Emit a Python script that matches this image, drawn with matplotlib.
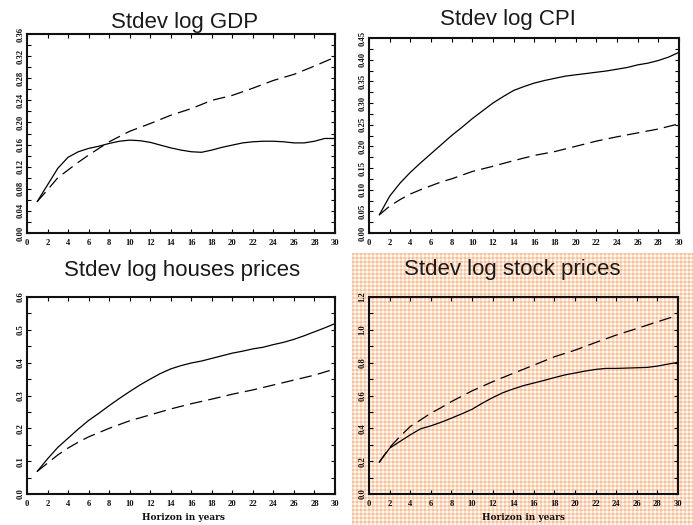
import numpy as np
import matplotlib
matplotlib.use("Agg")
import matplotlib.pyplot as plt
from matplotlib.ticker import MultipleLocator, FormatStrFormatter

# Horizons (years)
h_solid = list(range(1, 31))
h_dash = [1, 2, 3, 4, 5, 6, 7, 8, 10, 12, 14, 16, 18, 20, 22, 24, 26, 28, 30]

# Stdev of log GDP
gdp_solid = [0.057, 0.087, 0.117, 0.137, 0.147, 0.153, 0.157, 0.162, 0.166, 0.168,
             0.167, 0.164, 0.159, 0.154, 0.150, 0.147, 0.146, 0.150, 0.155, 0.159,
             0.163, 0.165, 0.166, 0.166, 0.165, 0.163, 0.163, 0.166, 0.171, 0.171]
gdp_dash = [0.057, 0.078, 0.100, 0.114, 0.128, 0.141, 0.153, 0.165, 0.184, 0.198,
            0.213, 0.225, 0.240, 0.249, 0.262, 0.276, 0.287, 0.302, 0.318]

# Stdev of log CPI
cpi_solid = [0.042, 0.085, 0.115, 0.140, 0.162, 0.183, 0.204, 0.225, 0.244, 0.264,
             0.282, 0.300, 0.315, 0.329, 0.338, 0.346, 0.352, 0.357, 0.362, 0.365,
             0.368, 0.371, 0.374, 0.378, 0.382, 0.388, 0.392, 0.398, 0.406, 0.417]
cpi_dash = [0.042, 0.062, 0.077, 0.090, 0.100, 0.109, 0.118, 0.125, 0.142, 0.154,
            0.167, 0.179, 0.188, 0.200, 0.212, 0.222, 0.231, 0.240, 0.252]

# Stdev of log house prices
house_solid = [0.069, 0.107, 0.142, 0.170, 0.198, 0.224, 0.246, 0.269, 0.291, 0.312,
               0.332, 0.350, 0.367, 0.381, 0.391, 0.399, 0.405, 0.413, 0.421, 0.429,
               0.435, 0.442, 0.447, 0.455, 0.462, 0.471, 0.482, 0.494, 0.506, 0.519]
house_dash = [0.069, 0.094, 0.119, 0.140, 0.158, 0.174, 0.187, 0.200, 0.223, 0.241,
              0.259, 0.275, 0.289, 0.304, 0.317, 0.332, 0.347, 0.362, 0.381]

# Stdev of log stock prices
stock_solid = [0.194, 0.279, 0.320, 0.360, 0.397, 0.415, 0.437, 0.462, 0.488, 0.516,
               0.553, 0.587, 0.617, 0.640, 0.660, 0.676, 0.692, 0.709, 0.725, 0.737,
               0.749, 0.759, 0.765, 0.765, 0.767, 0.769, 0.771, 0.779, 0.791, 0.802]
stock_dash = [0.194, 0.283, 0.350, 0.411, 0.451, 0.492, 0.526, 0.563, 0.628, 0.684,
              0.735, 0.785, 0.836, 0.876, 0.923, 0.968, 1.008, 1.049, 1.089]

titles = ["Stdev log GDP", "Stdev log CPI", "Stdev log houses prices", "Stdev log stock prices"]
xlabel = "Horizon in years"

plt.rcParams["font.family"] = ["Liberation Serif", "DejaVu Serif"]
plt.rcParams["font.weight"] = "bold"
plt.rcParams["xtick.labelsize"] = 6.2
plt.rcParams["ytick.labelsize"] = 6.2

W, H = 693, 525
fig = plt.figure(figsize=(W / 100, H / 100), dpi=100)
fig.patch.set_facecolor("white")

# Highlight panel: fine orange grid behind the stock-price plot
x0, y0 = 352, 0
pw, ph = W - x0, 525 - 253
ii, jj = np.mgrid[0:ph, 0:pw]
row_line = (ii % 4) < 2
col_line = (jj % 4) < 2
img = np.ones((ph, pw, 3))
base = np.array([255, 251, 247]) / 255
line = np.array([252, 222, 200]) / 255
cross = np.array([249, 192, 152]) / 255
img[:] = base
img[row_line | col_line] = line
img[row_line & col_line] = cross
fig.figimage(img, xo=x0, yo=y0, origin="upper", zorder=0)


def px_axes(l, r, t, b):
    return [l / W, 1 - b / H, (r - l) / W, (b - t) / H]


def setup(ax, ymax, ymajor, yfmt):
    ax.set_xlim(0, 30)
    ax.set_ylim(0, ymax)
    ax.xaxis.set_major_locator(MultipleLocator(2))
    ax.yaxis.set_major_locator(MultipleLocator(ymajor))
    ax.yaxis.set_minor_locator(MultipleLocator(ymajor / 2))
    ax.yaxis.set_major_formatter(FormatStrFormatter(yfmt))
    ax.tick_params(which="both", direction="in", top=True, right=True,
                   length=3, width=0.8, color="black", labelcolor="#111111")
    ax.tick_params(axis="x", pad=4)
    ax.tick_params(axis="y", pad=2, labelrotation=90)
    for lab in ax.get_yticklabels():
        lab.set_va("center")
    for sp in ax.spines.values():
        sp.set_linewidth(1.5)
        sp.set_color("#111111")


def draw(ax, ys, yd):
    ax.plot(h_solid, ys, color="black", lw=0.9, solid_joinstyle="round")
    ln, = ax.plot(h_dash, yd, color="black", lw=0.9)
    ln.set_dashes((10, 5))


panels = [
    (px_axes(27, 335, 34, 233), gdp_solid, gdp_dash, 0.36, 0.04, "%.2f"),
    (px_axes(369, 679, 38, 233), cpi_solid, cpi_dash, 0.45, 0.05, "%.2f"),
    (px_axes(27, 335, 297, 494), house_solid, house_dash, 0.6, 0.1, "%.1f"),
    (px_axes(369, 678, 297, 494), stock_solid, stock_dash, 1.2, 0.2, "%.1f"),
]

for i, (rect, ys, yd, ymax, ystep, fmt) in enumerate(panels):
    ax = fig.add_axes(rect)
    ax.set_zorder(2)
    ax.set_facecolor("none" if i == 3 else "white")
    draw(ax, ys, yd)
    setup(ax, ymax, ystep, fmt)

title_pos = [(185, 28.3), (508, 24.5), (182, 275.7), (512, 275)]
for (cx, by), t in zip(title_pos, titles):
    fig.text(cx / W, 1 - by / H, t, ha="center", va="baseline",
             family="Liberation Sans", weight="normal", size=16, color="#1a1a1a",
             zorder=3)

for cx in (183, 523):
    fig.text(cx / W, 1 - 517 / H, xlabel, ha="center", va="center",
             family="DejaVu Serif", weight="bold", size=6.5, color="#111111",
             zorder=3)

fig.savefig("out.png", dpi=100)
